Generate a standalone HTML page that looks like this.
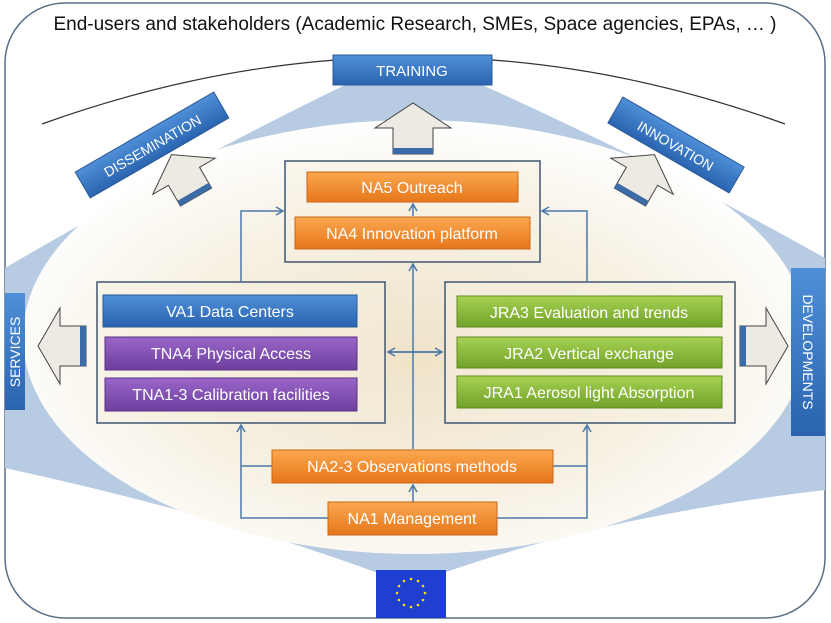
<!DOCTYPE html>
<html><head><meta charset="utf-8"><style>
html,body{margin:0;padding:0;background:#fff;}
svg{display:block;}
text{font-family:"Liberation Sans",sans-serif;}
</style></head><body>
<svg width="831" height="623" viewBox="0 0 831 623" xmlns="http://www.w3.org/2000/svg">
<defs>
<radialGradient id="cream" cx="0.5" cy="0.55" r="0.55">
<stop offset="0" stop-color="#efe3c8"/><stop offset="0.6" stop-color="#f7f1e4"/><stop offset="1" stop-color="#ffffff"/>
</radialGradient>
<linearGradient id="blue" x1="0" y1="0" x2="0" y2="1"><stop offset="0" stop-color="#4f8fd8"/><stop offset="1" stop-color="#2a64b0"/></linearGradient>
<linearGradient id="orange" x1="0" y1="0" x2="0" y2="1"><stop offset="0" stop-color="#fba850"/><stop offset="1" stop-color="#e6761a"/></linearGradient>
<linearGradient id="purple" x1="0" y1="0" x2="0" y2="1"><stop offset="0" stop-color="#9a66c9"/><stop offset="1" stop-color="#6d3f9e"/></linearGradient>
<linearGradient id="green" x1="0" y1="0" x2="0" y2="1"><stop offset="0" stop-color="#a6d252"/><stop offset="1" stop-color="#72a22a"/></linearGradient>
<marker id="ah" markerWidth="10" markerHeight="10" refX="8" refY="5" orient="auto" markerUnits="userSpaceOnUse"><path d="M1,1 L8,5 L1,9" fill="none" stroke="#4a78a8" stroke-width="1.5"/></marker>
</defs>

<rect x="5" y="3" width="820" height="615" rx="60" fill="#fff" stroke="#5a6f86" stroke-width="1.5"/>

<!-- blue star -->
<path d="M345,85 Q190,160 5,268 L5,468 Q220,515 375,572 L446,572 Q610,515 825,490 L825,258 Q650,160 482,85 Z" fill="#b7cbe3"/>
<ellipse cx="415" cy="337" rx="392" ry="217" fill="url(#cream)"/>

<path d="M42,124 Q415,-10 785,124" fill="none" stroke="#333" stroke-width="1.2"/>
<text x="415" y="30" font-size="19" text-anchor="middle" fill="#111">End-users and stakeholders (Academic Research, SMEs, Space agencies, EPAs, … )</text>

<rect x="333" y="55" width="159" height="30" fill="url(#blue)" stroke="#2a5a96"/>
<text x="412" y="76" font-size="15" fill="#fff" text-anchor="middle">TRAINING</text>

<g transform="translate(152,145) rotate(-30)">
<rect x="-80" y="-15" width="160" height="30" fill="url(#blue)" stroke="#2a5a96"/>
<text x="0" y="6" font-size="14" fill="#fff" text-anchor="middle">DISSEMINATION</text>
</g>
<g transform="translate(676,145) rotate(30)">
<rect x="-70" y="-15" width="140" height="30" fill="url(#blue)" stroke="#2a5a96"/>
<text x="0" y="6" font-size="14" fill="#fff" text-anchor="middle">INNOVATION</text>
</g>
<rect x="5" y="293" width="20" height="117" fill="url(#blue)"/>
<text transform="translate(20,352) rotate(-90)" font-size="14" fill="#fff" text-anchor="middle">SERVICES</text>
<rect x="791" y="268" width="34" height="168" fill="url(#blue)"/>
<text transform="translate(803,352) rotate(90)" font-size="14" fill="#fff" text-anchor="middle">DEVELOPMENTS</text>

<g transform="translate(413,130)"><path d="M-20,24 L-20,-2 L-38,-2 L0,-27 L38,-2 L20,-2 L20,24 Z" fill="#eceae2" stroke="#444"/><rect x="-20" y="18" width="40" height="6" fill="#3c6ca8"/></g>
<g transform="translate(185,178) rotate(-30)"><path d="M-18,22 L-18,-2 L-36,-2 L0,-27 L36,-2 L18,-2 L18,22 Z" fill="#eceae2" stroke="#444"/><rect x="-18" y="16" width="36" height="6" fill="#3c6ca8"/></g>
<g transform="translate(641,178) rotate(30)"><path d="M-18,22 L-18,-2 L-36,-2 L0,-27 L36,-2 L18,-2 L18,22 Z" fill="#eceae2" stroke="#444"/><rect x="-18" y="16" width="36" height="6" fill="#3c6ca8"/></g>
<g transform="translate(62,346) rotate(-90)"><path d="M-20,24 L-20,-2 L-38,-2 L0,-24 L38,-2 L20,-2 L20,24 Z" fill="#eceae2" stroke="#444"/><rect x="-20" y="18" width="40" height="6" fill="#3c6ca8"/></g>
<g transform="translate(764,346) rotate(90)"><path d="M-20,24 L-20,-2 L-38,-2 L0,-24 L38,-2 L20,-2 L20,24 Z" fill="#eceae2" stroke="#444"/><rect x="-20" y="18" width="40" height="6" fill="#3c6ca8"/></g>

<rect x="285" y="161" width="255" height="101" fill="#f6efdf" fill-opacity="0.5" stroke="#3f5670" stroke-width="1.5"/>
<rect x="97" y="282" width="288" height="141" fill="#f6efdf" fill-opacity="0.5" stroke="#3f5670" stroke-width="1.5"/>
<rect x="445" y="282" width="290" height="141" fill="#f6efdf" fill-opacity="0.5" stroke="#3f5670" stroke-width="1.5"/>

<g fill="none" stroke="#4a78a8" stroke-width="1.5">
<line x1="413" y1="449" x2="413" y2="264" marker-end="url(#ah)"/>
<line x1="413" y1="216" x2="413" y2="204" marker-end="url(#ah)"/>
<polyline points="241,282 241,211 283,211" marker-end="url(#ah)"/>
<polyline points="587,282 587,211 542,211" marker-end="url(#ah)"/>
<line x1="389" y1="352" x2="442" y2="352" marker-end="url(#ah)"/>
<line x1="440" y1="352" x2="388" y2="352" marker-end="url(#ah)"/>
<polyline points="328,518 241,518 241,425" marker-end="url(#ah)"/>
<polyline points="497,518 587,518 587,425" marker-end="url(#ah)"/>
<line x1="241" y1="466" x2="272" y2="466"/>
<line x1="553" y1="466" x2="587" y2="466"/>
<line x1="413" y1="502" x2="413" y2="485" marker-end="url(#ah)"/>
</g>

<g font-size="16" fill="#fff" text-anchor="middle">
<rect x="307" y="172" width="211" height="30" fill="url(#orange)" stroke="#c8661a"/>
<text x="412" y="193">NA5 Outreach</text>
<rect x="295" y="217" width="235" height="32" fill="url(#orange)" stroke="#c8661a"/>
<text x="412" y="239">NA4 Innovation platform</text>

<rect x="103" y="295" width="254" height="32" fill="url(#blue)" stroke="#2a5a96"/>
<text x="230" y="317">VA1 Data Centers</text>
<rect x="105" y="337" width="252" height="33" fill="url(#purple)" stroke="#5a3285"/>
<text x="231" y="359">TNA4 Physical Access</text>
<rect x="105" y="378" width="252" height="33" fill="url(#purple)" stroke="#5a3285"/>
<text x="231" y="400">TNA1-3 Calibration facilities</text>

<rect x="457" y="296" width="265" height="31" fill="url(#green)" stroke="#5f8a22"/>
<text x="589" y="318">JRA3 Evaluation and trends</text>
<rect x="457" y="337" width="265" height="31" fill="url(#green)" stroke="#5f8a22"/>
<text x="589" y="359">JRA2  Vertical exchange</text>
<rect x="457" y="376" width="265" height="32" fill="url(#green)" stroke="#5f8a22"/>
<text x="589" y="398">JRA1 Aerosol light Absorption</text>

<rect x="272" y="450" width="281" height="33" fill="url(#orange)" stroke="#c8661a"/>
<text x="412" y="472">NA2-3 Observations methods</text>
<rect x="328" y="502" width="169" height="33" fill="url(#orange)" stroke="#c8661a"/>
<text x="412" y="524">NA1 Management</text>
</g>

<rect x="376" y="570" width="70" height="48" fill="#1e3fd0"/>
<g fill="#ffe000">
<circle cx="411" cy="579" r="1.3"/><circle cx="418" cy="581" r="1.3"/><circle cx="423" cy="586" r="1.3"/><circle cx="425" cy="593" r="1.3"/><circle cx="423" cy="600" r="1.3"/><circle cx="418" cy="605" r="1.3"/><circle cx="411" cy="607" r="1.3"/><circle cx="404" cy="605" r="1.3"/><circle cx="399" cy="600" r="1.3"/><circle cx="397" cy="593" r="1.3"/><circle cx="399" cy="586" r="1.3"/><circle cx="404" cy="581" r="1.3"/>
</g>
</svg>
</body></html>
